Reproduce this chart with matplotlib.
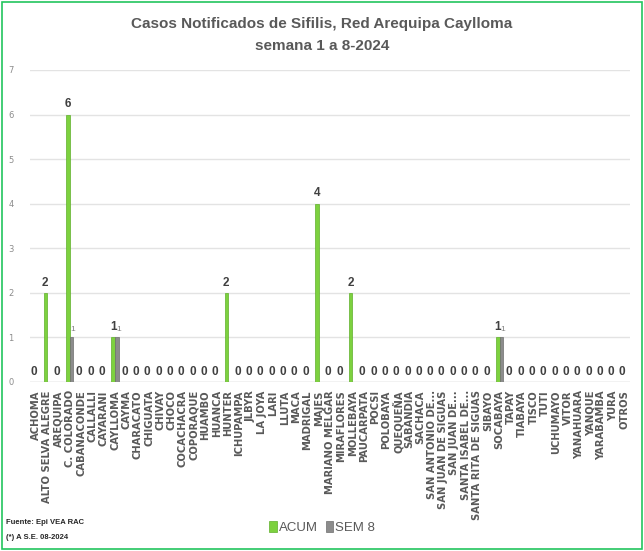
import numpy as np
import matplotlib
matplotlib.use("Agg")
import matplotlib.pyplot as plt

# categorias (distritos) y casos
distritos = ["ACHOMA", "ALTO SELVA ALEGRE", "AREQUIPA", "C. COLORADO", "CABANACONDE",
             "CALLALLI", "CAYARANI", "CAYLLOMA", "CAYMA", "CHARACATO", "CHIGUATA",
             "CHIVAY", "CHOCO", "COCACHACRA", "COPORAQUE", "HUAMBO", "HUANCA", "HUNTER",
             "ICHUPAMPA", "JLBYR", "LA JOYA", "LARI", "LLUTA", "MACA", "MADRIGAL", "MAJES",
             "MARIANO MELGAR", "MIRAFLORES", "MOLLEBAYA", "PAUCARPATA", "POCSI",
             "POLOBAYA", "QUEQUEÑA", "SABANDIA", "SACHACA", "SAN ANTONIO DE...",
             "SAN JUAN DE SIGUAS", "SAN JUAN DE...", "SANTA ISABEL DE...",
             "SANTA RITA DE SIGUAS", "SIBAYO", "SOCABAYA", "TAPAY", "TIABAYA", "TISCO",
             "TUTI", "UCHUMAYO", "VITOR", "YANAHUARA", "YANQUE", "YARABAMBA", "YURA",
             "OTROS"]
acum = {"ALTO SELVA ALEGRE": 2, "C. COLORADO": 6, "CAYLLOMA": 1, "HUNTER": 2,
        "MAJES": 4, "MOLLEBAYA": 2, "SOCABAYA": 1}
sem8 = {"C. COLORADO": 1, "CAYLLOMA": 1, "SOCABAYA": 1}

acum_vals = np.array([acum.get(d, 0) for d in distritos])
sem_vals = np.array([sem8.get(d, 0) for d in distritos])

narrow = "Liberation Sans"

fig = plt.figure(figsize=(6.44, 5.51), dpi=100)
ax = fig.add_axes([0.047, 0.307, 0.931, 0.566])

x = np.arange(len(distritos))
w = 0.3
ax.bar(x - 0.17, acum_vals, w, color="#7dd13f", edgecolor="#5fb02a", linewidth=0.5, zorder=3, label="ACUM")
ax.bar(x + 0.17, sem_vals, w, color="#8c8c8c", edgecolor="#6e6e6e", linewidth=0.5, zorder=3, label="SEM 8")

for i in range(len(distritos)):
    ax.annotate(str(acum_vals[i]), (x[i] - 0.17, acum_vals[i]), xytext=(0, 3),
                textcoords="offset points", ha="center", va="bottom",
                fontsize=8.5, fontweight="bold", color="#404040", family=narrow)
    if sem_vals[i] > 0:
        ax.annotate(str(sem_vals[i]), (x[i] + 0.17, sem_vals[i]), xytext=(1, 3),
                    textcoords="offset points", ha="center", va="bottom",
                    fontsize=6, color="#808080", family=narrow)

ax.set_xlim(-0.5, len(distritos) - 0.5)
ax.set_ylim(0, 7)
ax.set_yticks(range(8))
ax.yaxis.grid(True, color="#e3e3e3", linewidth=1, zorder=0)
ax.set_axisbelow(True)
for s in ax.spines.values():
    s.set_visible(False)
ax.axhline(0, color="#d9d9d9", linewidth=1, zorder=1)
ax.tick_params(axis="y", length=0, labelsize=6, labelcolor="#8c8c8c", pad=12)
ax.tick_params(axis="x", length=0, pad=6)
ax.set_xticks(x)
ax.set_xticklabels(distritos, rotation=90, fontsize=7.2, fontweight="bold",
                   color="#595959", family="DejaVu Sans")

fig.text(0.5, 0.957, "Casos Notificados de Sifilis, Red Arequipa Caylloma",
         ha="center", va="center", fontsize=11, fontweight="bold", color="#595959", family=narrow)
fig.text(0.5, 0.917, "semana 1 a 8-2024",
         ha="center", va="center", fontsize=11, fontweight="bold", color="#595959", family=narrow)

fig.legend(loc="center", bbox_to_anchor=(0.5, 0.043), ncol=2, frameon=False,
           handlelength=0.6, handleheight=0.9, handletextpad=0.15, columnspacing=0.6,
           prop={"family": narrow, "size": 9.5}, labelcolor="#595959")

fig.text(0.009, 0.052, "Fuente: Epi VEA RAC", fontsize=5.5, fontweight="bold",
         color="#262626", family=narrow, va="center")
fig.text(0.009, 0.024, "(*) A S.E. 08-2024", fontsize=5.5, fontweight="bold",
         color="#262626", family=narrow, va="center")

# borde verde
fig.patches.append(plt.Rectangle((0.003, 0.003), 0.994, 0.994, transform=fig.transFigure,
                                 fill=False, edgecolor="#22c55e", linewidth=1.2))

fig.savefig("out.png", dpi=100)
